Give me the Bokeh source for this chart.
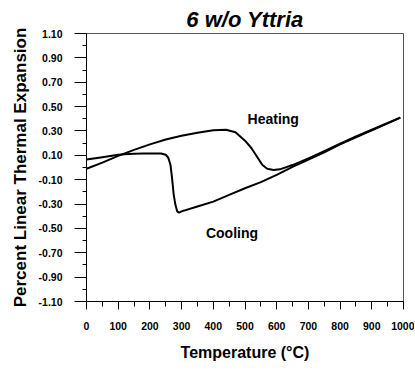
from bokeh.plotting import figure
from bokeh.models import Range1d, FixedTicker, NumeralTickFormatter, Label
from bokeh.embed import file_html
from bokeh.resources import INLINE

# Heating curve (Temperature °C, % linear thermal expansion)
heat_t = [0, 50, 100, 150, 200, 250, 300, 350, 400, 440, 470, 500, 520, 540, 555,
          570, 590, 610, 650, 700, 750, 800, 850, 900, 950, 990]
heat_v = [-0.01, 0.04, 0.095, 0.145, 0.19, 0.23, 0.26, 0.285, 0.305, 0.31, 0.29,
          0.22, 0.16, 0.08, 0.02, -0.01, -0.02, -0.015, 0.02, 0.075, 0.135, 0.195,
          0.255, 0.31, 0.365, 0.41]

# Cooling curve (from 990 °C down to 0 °C)
cool_t = [990, 950, 900, 850, 800, 750, 700, 650, 600, 550, 500, 450, 400, 350, 300,
          292, 286, 280, 275, 270, 265, 258, 250, 235, 210, 180, 150, 120, 100, 50, 0]
cool_v = [0.41, 0.362, 0.305, 0.248, 0.19, 0.125, 0.065, 0.005, -0.06, -0.12, -0.17,
          -0.225, -0.28, -0.32, -0.36, -0.37, -0.36, -0.3, -0.22, -0.09, 0.02, 0.08,
          0.105, 0.115, 0.115, 0.115, 0.112, 0.108, 0.105, 0.085, 0.065]

x_major = [0, 100, 200, 300, 400, 500, 600, 700, 800, 900, 1000]
x_minor = [50, 150, 250, 350, 450, 550, 650, 750, 850, 950]
y_major = [1.10, 0.90, 0.70, 0.50, 0.30, 0.10, -0.10, -0.30, -0.50, -0.70, -0.90, -1.10]
y_minor = [1.00, 0.80, 0.60, 0.40, 0.20, 0.00, -0.20, -0.40, -0.60, -0.80, -1.00]

FONT = "Liberation Sans"

p = figure(width=414, height=378, output_backend="svg", toolbar_location=None,
           x_range=Range1d(0, 1000), y_range=Range1d(-1.10, 1.10),
           min_border_left=86, min_border_right=11, min_border_top=33,
           min_border_bottom=77)
p.background_fill_color = "white"
p.border_fill_color = "white"
p.xgrid.visible = False
p.ygrid.visible = False
p.outline_line_color = "#555555"
p.outline_line_width = 1

p.title.text = "6 w/o Yttria"
p.title.text_font = FONT
p.title.text_font_style = "bold italic"
p.title.text_font_size = "22px"
p.title.text_color = "black"
p.title.align = "center"
p.title.offset = 3
p.title.standoff = 4

p.line(heat_t, heat_v, line_color="black", line_width=2)
p.line(cool_t, cool_v, line_color="black", line_width=2)

# x axis
xa = p.xaxis[0]
xa.ticker = FixedTicker(ticks=x_major, minor_ticks=x_minor)
xa.axis_label = "Temperature (°C)"
xa.axis_label_text_font = FONT
xa.axis_label_text_font_style = "bold"
xa.axis_label_text_font_size = "16px"
xa.axis_label_text_color = "black"
xa.axis_label_standoff = 11
xa.major_label_text_font = FONT
xa.major_label_text_font_style = "bold"
xa.major_label_text_font_size = "10.5px"
xa.major_label_text_color = "black"
xa.major_label_standoff = 12
xa.major_tick_out = 8
xa.major_tick_in = 0
xa.minor_tick_out = 5
xa.minor_tick_in = 0
xa.axis_line_color = "black"
xa.major_tick_line_color = "black"
xa.minor_tick_line_color = "black"

# y axis
ya = p.yaxis[0]
ya.ticker = FixedTicker(ticks=y_major, minor_ticks=y_minor)
ya.formatter = NumeralTickFormatter(format="0.00")
ya.axis_label = "Percent Linear Thermal Expansion"
ya.axis_label_text_font = FONT
ya.axis_label_text_font_style = "bold"
ya.axis_label_text_font_size = "17px"
ya.axis_label_text_color = "black"
ya.axis_label_standoff = 6
ya.major_label_text_font = FONT
ya.major_label_text_font_style = "bold"
ya.major_label_text_font_size = "10.5px"
ya.major_label_text_color = "black"
ya.major_label_standoff = 12
ya.major_tick_out = 12
ya.major_tick_in = 0
ya.minor_tick_out = 4
ya.minor_tick_in = 0
ya.axis_line_color = "black"
ya.major_tick_line_color = "black"
ya.minor_tick_line_color = "black"

# annotations
p.add_layout(Label(x=589, y=0.40, text="Heating", text_font=FONT,
                   text_font_style="bold", text_font_size="14px", text_color="black",
                   text_align="center", text_baseline="middle"))
p.add_layout(Label(x=459, y=-0.54, text="Cooling", text_font=FONT,
                   text_font_style="bold", text_font_size="14px", text_color="black",
                   text_align="center", text_baseline="middle"))

open("out.html", "w").write(file_html(p, INLINE))
